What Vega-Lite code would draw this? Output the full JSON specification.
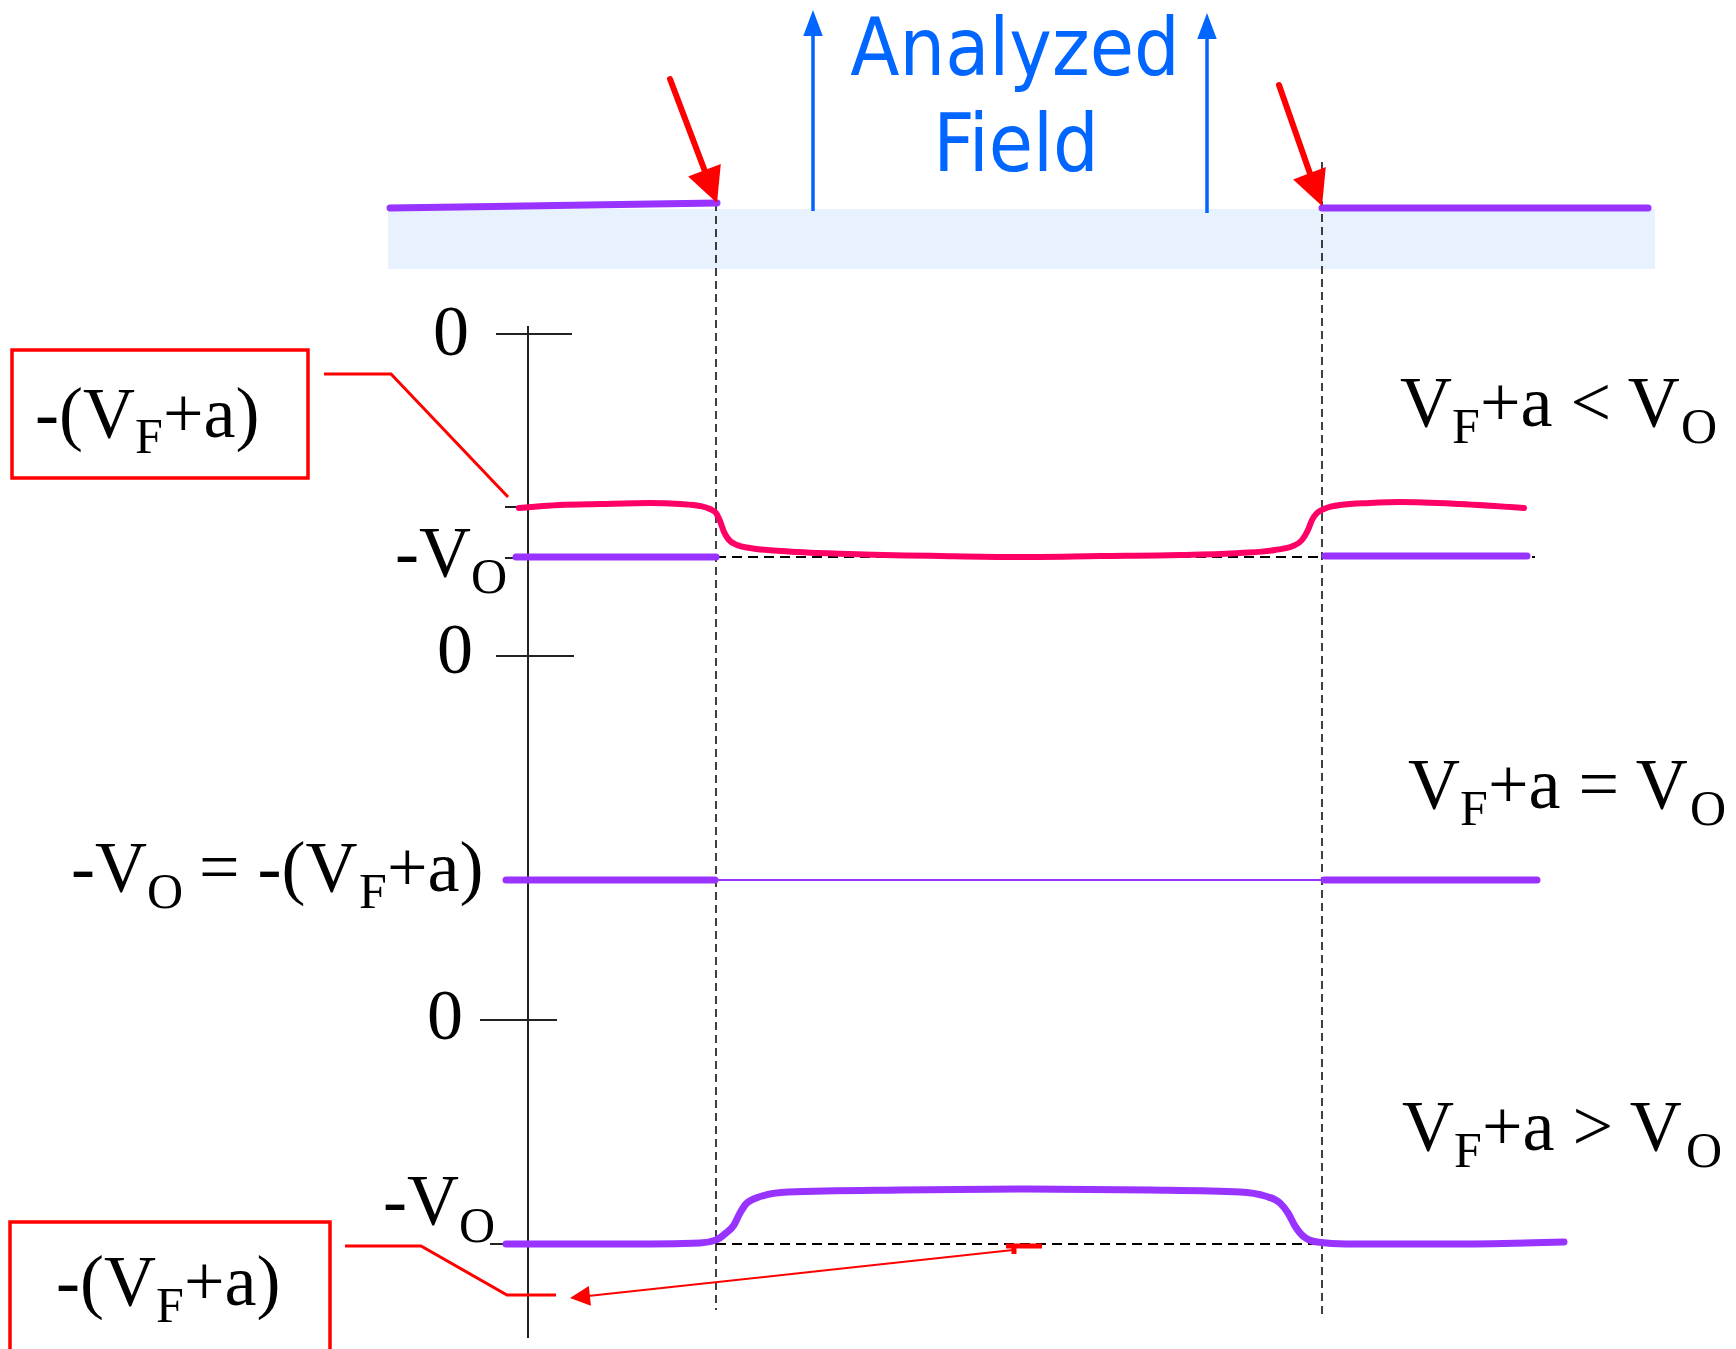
{
  "$schema": "https://vega.github.io/schema/vega-lite/v6.json",
  "width": 1736,
  "height": 1349,
  "padding": 0,
  "autosize": {"type": "none"},
  "background": "white",
  "config": {"view": {"stroke": null}},
  "datasets": {
    "band": [{"x": 388, "x2": 1655, "y": 209, "y2": 269}],
    "purpleThick": [
      {"x": 390, "y": 208, "x2": 717, "y2": 203},
      {"x": 1322, "y": 208, "x2": 1648, "y2": 208},
      {"x": 516, "y": 557, "x2": 716, "y2": 557},
      {"x": 1325, "y": 556, "x2": 1527, "y2": 556},
      {"x": 506, "y": 880, "x2": 715, "y2": 880},
      {"x": 1324, "y": 880, "x2": 1537, "y2": 880}
    ],
    "purpleThin": [{"x": 715, "y": 880, "x2": 1324, "y2": 880}],
    "blackSolid": [
      {"x": 528, "y": 326, "x2": 528, "y2": 1338},
      {"x": 496, "y": 334, "x2": 572, "y2": 334},
      {"x": 496, "y": 656, "x2": 574, "y2": 656},
      {"x": 480, "y": 1020, "x2": 557, "y2": 1020},
      {"x": 505, "y": 507, "x2": 528, "y2": 507},
      {"x": 505, "y": 558, "x2": 528, "y2": 558},
      {"x": 490, "y": 1244, "x2": 528, "y2": 1244}
    ],
    "blackDashV": [
      {"x": 716, "y": 203, "x2": 716, "y2": 1310},
      {"x": 1322, "y": 162, "x2": 1322, "y2": 1318}
    ],
    "blackDashH": [
      {"x": 716, "y": 557, "x2": 1535, "y2": 557},
      {"x": 716, "y": 1244, "x2": 1350, "y2": 1244}
    ],
    "redThick": [
      {"x": 670, "y": 79, "x2": 709, "y2": 182},
      {"x": 1279, "y": 85, "x2": 1314, "y2": 185}
    ],
    "blueLines": [
      {"x": 813, "y": 211, "x2": 813, "y2": 30},
      {"x": 1207, "y": 213, "x2": 1207, "y2": 33}
    ],
    "redCallouts": [
      {"id": "a", "o": 1, "x": 324, "y": 374},
      {"id": "a", "o": 2, "x": 391, "y": 374},
      {"id": "a", "o": 3, "x": 508, "y": 497},
      {"id": "b", "o": 1, "x": 345, "y": 1246},
      {"id": "b", "o": 2, "x": 421, "y": 1246},
      {"id": "b", "o": 3, "x": 507, "y": 1295},
      {"id": "b", "o": 4, "x": 556, "y": 1295}
    ],
    "redThin": [{"x": 1013, "y": 1250, "x2": 588, "y2": 1296}],
    "redMark": [
      {"x": 1006, "y": 1246, "x2": 1042, "y2": 1246},
      {"x": 1014, "y": 1246, "x2": 1014, "y2": 1254}
    ],
    "pink": [
      {"x": 519, "y": 508}, {"x": 560, "y": 505}, {"x": 600, "y": 504},
      {"x": 650, "y": 503}, {"x": 680, "y": 504}, {"x": 700, "y": 506},
      {"x": 710, "y": 509}, {"x": 716, "y": 513}, {"x": 720, "y": 521},
      {"x": 724, "y": 532}, {"x": 729, "y": 540}, {"x": 737, "y": 545},
      {"x": 750, "y": 548}, {"x": 781, "y": 551}, {"x": 850, "y": 554},
      {"x": 940, "y": 556}, {"x": 1016, "y": 557}, {"x": 1100, "y": 556},
      {"x": 1180, "y": 555}, {"x": 1240, "y": 553}, {"x": 1275, "y": 550},
      {"x": 1293, "y": 546}, {"x": 1302, "y": 540}, {"x": 1308, "y": 530},
      {"x": 1312, "y": 520}, {"x": 1317, "y": 513}, {"x": 1324, "y": 509},
      {"x": 1340, "y": 505}, {"x": 1370, "y": 503}, {"x": 1400, "y": 502},
      {"x": 1460, "y": 504}, {"x": 1524, "y": 508}
    ],
    "purpleCurve": [
      {"x": 506, "y": 1244}, {"x": 650, "y": 1244}, {"x": 700, "y": 1243},
      {"x": 716, "y": 1240}, {"x": 726, "y": 1233}, {"x": 734, "y": 1225},
      {"x": 740, "y": 1213}, {"x": 746, "y": 1204}, {"x": 759, "y": 1197},
      {"x": 788, "y": 1192}, {"x": 900, "y": 1190}, {"x": 1027, "y": 1189},
      {"x": 1150, "y": 1190}, {"x": 1240, "y": 1192}, {"x": 1265, "y": 1196},
      {"x": 1280, "y": 1203}, {"x": 1288, "y": 1213}, {"x": 1295, "y": 1226},
      {"x": 1303, "y": 1236}, {"x": 1317, "y": 1242}, {"x": 1346, "y": 1244},
      {"x": 1450, "y": 1244}, {"x": 1564, "y": 1242}
    ],
    "boxes": [
      {"x": 12, "x2": 308, "y": 350, "y2": 478},
      {"x": 10, "x2": 330, "y": 1222, "y2": 1360}
    ],
    "redHeads": [{"x": 717, "y": 203}, {"x": 1322, "y": 206}],
    "blueHeads": [{"x": 813, "y": 10}, {"x": 1207, "y": 13}],
    "redSmallHead": [{"x": 570, "y": 1298}],
    "blueText": [
      {"x": 1015, "y": 75, "t": "Analyzed"},
      {"x": 1016, "y": 171, "t": "Field"}
    ],
    "serifMain": [
      {"x": 35, "y": 437, "t": "-(V"},
      {"x": 163, "y": 437, "t": "+a)"},
      {"x": 395, "y": 576, "t": "-V"},
      {"x": 71, "y": 891, "t": "-V"},
      {"x": 199, "y": 891, "t": "= -(V"},
      {"x": 387, "y": 891, "t": "+a)"},
      {"x": 383, "y": 1224, "t": "-V"},
      {"x": 56, "y": 1305, "t": "-(V"},
      {"x": 184, "y": 1305, "t": "+a)"},
      {"x": 1400, "y": 426, "t": "V"},
      {"x": 1480, "y": 426, "t": "+a < V"},
      {"x": 1408, "y": 808, "t": "V"},
      {"x": 1488, "y": 808, "t": "+a = V"},
      {"x": 1402, "y": 1150, "t": "V"},
      {"x": 1482, "y": 1150, "t": "+a > V"},
      {"x": 433, "y": 355, "t": "0"},
      {"x": 437, "y": 673, "t": "0"},
      {"x": 427, "y": 1039, "t": "0"}
    ],
    "serifSub": [
      {"x": 135, "y": 453, "t": "F"},
      {"x": 471, "y": 593, "t": "O"},
      {"x": 147, "y": 908, "t": "O"},
      {"x": 359, "y": 908, "t": "F"},
      {"x": 459, "y": 1242, "t": "O"},
      {"x": 156, "y": 1322, "t": "F"},
      {"x": 1452, "y": 443, "t": "F"},
      {"x": 1681, "y": 443, "t": "O"},
      {"x": 1460, "y": 825, "t": "F"},
      {"x": 1690, "y": 825, "t": "O"},
      {"x": 1454, "y": 1167, "t": "F"},
      {"x": 1686, "y": 1167, "t": "O"}
    ]
  },
  "encoding": {
    "x": {"field": "x", "type": "quantitative", "scale": {"domain": [0, 1736], "nice": false, "zero": false}, "axis": null},
    "y": {"field": "y", "type": "quantitative", "scale": {"domain": [0, 1349], "nice": false, "zero": false, "reverse": true}, "axis": null}
  },
  "layer": [
    {
      "data": {"name": "band"},
      "mark": {"type": "rect", "color": "#E8F2FE"},
      "encoding": {"x2": {"field": "x2"}, "y2": {"field": "y2"}}
    },
    {
      "data": {"name": "blackDashV"},
      "mark": {"type": "rule", "color": "#000000", "strokeWidth": 1.5, "strokeDash": [8, 5]},
      "encoding": {"x2": {"field": "x2"}, "y2": {"field": "y2"}}
    },
    {
      "data": {"name": "blackDashH"},
      "mark": {"type": "rule", "color": "#000000", "strokeWidth": 2, "strokeDash": [10, 6]},
      "encoding": {"x2": {"field": "x2"}, "y2": {"field": "y2"}}
    },
    {
      "data": {"name": "blackSolid"},
      "mark": {"type": "rule", "color": "#222222", "strokeWidth": 2},
      "encoding": {"x2": {"field": "x2"}, "y2": {"field": "y2"}}
    },
    {
      "data": {"name": "purpleThin"},
      "mark": {"type": "rule", "color": "#9933FF", "strokeWidth": 2},
      "encoding": {"x2": {"field": "x2"}, "y2": {"field": "y2"}}
    },
    {
      "data": {"name": "purpleThick"},
      "mark": {"type": "rule", "color": "#9933FF", "strokeWidth": 7, "strokeCap": "round"},
      "encoding": {"x2": {"field": "x2"}, "y2": {"field": "y2"}}
    },
    {
      "data": {"name": "pink"},
      "mark": {"type": "line", "color": "#FF0066", "strokeWidth": 6, "strokeCap": "round", "interpolate": "monotone"},
      "encoding": {}
    },
    {
      "data": {"name": "purpleCurve"},
      "mark": {"type": "line", "color": "#9933FF", "strokeWidth": 7, "strokeCap": "round", "interpolate": "monotone"},
      "encoding": {}
    },
    {
      "data": {"name": "redThick"},
      "mark": {"type": "rule", "color": "#FF0000", "strokeWidth": 6, "strokeCap": "round"},
      "encoding": {"x2": {"field": "x2"}, "y2": {"field": "y2"}}
    },
    {
      "data": {"name": "blueLines"},
      "mark": {"type": "rule", "color": "#0066FF", "strokeWidth": 3.5},
      "encoding": {"x2": {"field": "x2"}, "y2": {"field": "y2"}}
    },
    {
      "data": {"name": "redCallouts"},
      "mark": {"type": "line", "color": "#FF0000", "strokeWidth": 3},
      "encoding": {"detail": {"field": "id"}, "order": {"field": "o", "type": "quantitative"}}
    },
    {
      "data": {"name": "redThin"},
      "mark": {"type": "rule", "color": "#FF0000", "strokeWidth": 2},
      "encoding": {"x2": {"field": "x2"}, "y2": {"field": "y2"}}
    },
    {
      "data": {"name": "redMark"},
      "mark": {"type": "rule", "color": "#FF0000", "strokeWidth": 5},
      "encoding": {"x2": {"field": "x2"}, "y2": {"field": "y2"}}
    },
    {
      "data": {"name": "boxes"},
      "mark": {"type": "rect", "filled": false, "stroke": "#FF0000", "strokeWidth": 3.5},
      "encoding": {"x2": {"field": "x2"}, "y2": {"field": "y2"}}
    },
    {
      "data": {"name": "redHeads"},
      "mark": {"type": "point", "shape": "M0,0L-1,-2L1,-2Z", "filled": true, "color": "#FF0000", "opacity": 1, "strokeWidth": 0, "size": 1225, "angle": 339},
      "encoding": {}
    },
    {
      "data": {"name": "blueHeads"},
      "mark": {"type": "point", "shape": "M0,0L-0.75,2L0.75,2Z", "filled": true, "color": "#0066FF", "opacity": 1, "strokeWidth": 0, "size": 676},
      "encoding": {}
    },
    {
      "data": {"name": "redSmallHead"},
      "mark": {"type": "point", "shape": "M0,0L2,-1L2,1Z", "filled": true, "color": "#FF0000", "opacity": 1, "strokeWidth": 0, "size": 400, "angle": 354},
      "encoding": {}
    },
    {
      "data": {"name": "blueText"},
      "mark": {"type": "text", "font": "DejaVu Sans Condensed, Liberation Sans, sans-serif", "fontSize": 80, "color": "#0066FF", "align": "center", "baseline": "alphabetic"},
      "encoding": {"text": {"field": "t"}}
    },
    {
      "data": {"name": "serifMain"},
      "mark": {"type": "text", "font": "Liberation Serif, serif", "fontSize": 72, "color": "#000000", "align": "left", "baseline": "alphabetic"},
      "encoding": {"text": {"field": "t"}}
    },
    {
      "data": {"name": "serifSub"},
      "mark": {"type": "text", "font": "Liberation Serif, serif", "fontSize": 50, "color": "#000000", "align": "left", "baseline": "alphabetic"},
      "encoding": {"text": {"field": "t"}}
    }
  ]
}
